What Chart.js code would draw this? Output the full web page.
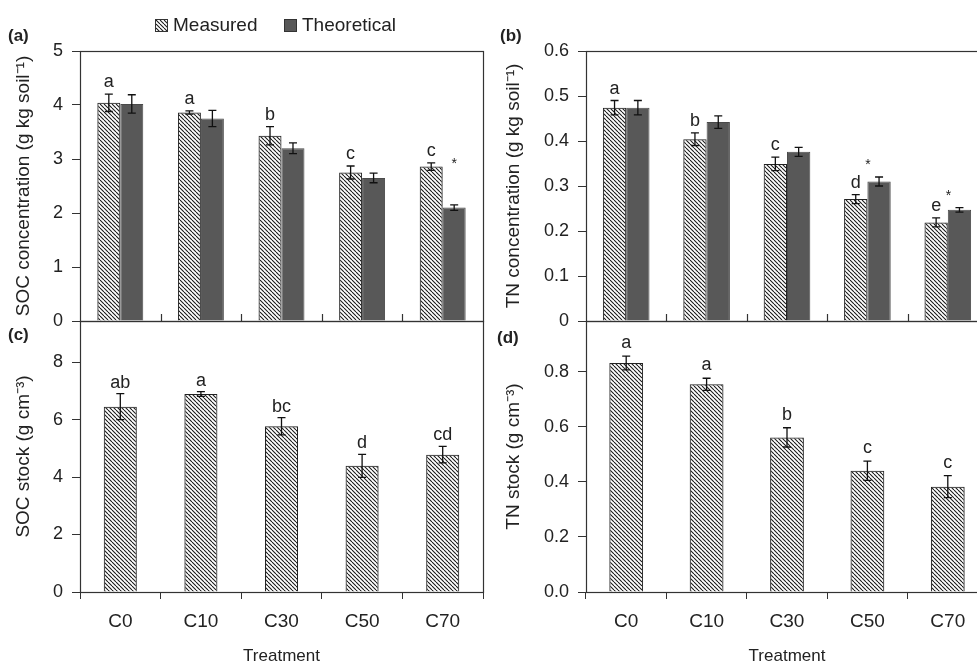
<!DOCTYPE html>
<html>
<head>
<meta charset="utf-8">
<script src="https://cdn.jsdelivr.net/npm/chart.js@4.4.1/dist/chart.umd.min.js"></script>
<style>
    html, body { margin: 0; padding: 0; background: #fff; overflow: hidden; }
    body { width: 977px; height: 665px; position: relative; }
    canvas { position: absolute; }
</style>
</head>
<body>
<canvas id="socConc" width="490" height="330" style="left:0;top:0"></canvas>
<canvas id="tnConc" width="510" height="330" style="left:490px;top:0"></canvas>
<canvas id="socStock" width="490" height="355" style="left:0;top:310px"></canvas>
<canvas id="tnStock" width="510" height="355" style="left:490px;top:310px"></canvas>
<script>
const FONT = "'Liberation Sans', Arial, sans-serif";
const INK = '#222';
const DARK = '#585858';

const treatments = ['C0', 'C10', 'C30', 'C50', 'C70'];

// (a) SOC concentration (g kg soil-1)
const socConcMeasured = [4.04, 3.86, 3.43, 2.75, 2.86];
const socConcMeasuredErr = [0.16, 0.03, 0.17, 0.12, 0.07];
const socConcTheoretical = [4.02, 3.75, 3.20, 2.65, 2.10];
const socConcTheoreticalErr = [0.17, 0.15, 0.10, 0.09, 0.05];
const socConcLetters = ['a', 'a', 'b', 'c', 'c'];
const socConcStars = ['', '', '', '', '*'];

// (b) TN concentration (g kg soil-1)
const tnConcMeasured = [0.474, 0.404, 0.349, 0.271, 0.219];
const tnConcMeasuredErr = [0.016, 0.014, 0.015, 0.010, 0.010];
const tnConcTheoretical = [0.474, 0.442, 0.376, 0.310, 0.247];
const tnConcTheoreticalErr = [0.016, 0.014, 0.010, 0.010, 0.005];
const tnConcLetters = ['a', 'b', 'c', 'd', 'e'];
const tnConcStars = ['', '', '', '*', '*'];

// (c) SOC stock (g cm-3)
const socStock = [6.45, 6.89, 5.77, 4.39, 4.78];
const socStockErr = [0.45, 0.08, 0.30, 0.40, 0.29];
const socStockLetters = ['ab', 'a', 'bc', 'd', 'cd'];

// (d) TN stock (g cm-3)
const tnStock = [0.832, 0.755, 0.562, 0.441, 0.383];
const tnStockErr = [0.025, 0.022, 0.035, 0.035, 0.040];
const tnStockLetters = ['a', 'a', 'b', 'c', 'c'];

// diagonal hatch used for the measured bars
function makeHatch() {
    const c = document.createElement('canvas');
    c.width = 4; c.height = 4;
    const g = c.getContext('2d');
    g.strokeStyle = '#1a1a1a';
    g.lineWidth = 1.1;
    [-4, 0, 4].forEach(k => {
        g.beginPath(); g.moveTo(k, 0); g.lineTo(k + 4, 4); g.stroke();
    });
    return g.createPattern(c, 'repeat');
}
const hatch = makeHatch();

// box round the plot area, with optional inward category ticks
const framePlugin = {
    id: 'frame',
    afterDatasetsDraw(chart, args, opts) {
        const { ctx, chartArea: a, scales } = chart;
        ctx.save();
        ctx.strokeStyle = '#333';
        ctx.lineWidth = 1.2;
        ctx.strokeRect(Math.round(a.left) + 0.5, Math.round(a.top) + 0.5, Math.round(a.width), Math.round(a.height));
        if (opts.innerTicks) {
            const n = chart.data.labels.length;
            for (let i = 1; i < n; i++) {
                const px = Math.round((scales.x.getPixelForValue(i - 1) + scales.x.getPixelForValue(i)) / 2) + 0.5;
                ctx.beginPath();
                ctx.moveTo(px, a.bottom);
                ctx.lineTo(px, a.bottom - 7);
                ctx.stroke();
            }
        }
        ctx.restore();
    }
};

// error bars and significance letters, read from the dataset
const errorPlugin = {
    id: 'errors',
    afterDatasetsDraw(chart) {
        const { ctx, scales } = chart;
        ctx.save();
        chart.data.datasets.forEach((ds, d) => {
            const meta = chart.getDatasetMeta(d);
            ds.data.forEach((v, i) => {
                const e = ds.errors[i];
                const x = meta.data[i].x;
                const top = scales.y.getPixelForValue(v + e);
                const bot = scales.y.getPixelForValue(v - e);
                ctx.strokeStyle = '#111';
                ctx.lineWidth = 1.3;
                ctx.beginPath();
                ctx.moveTo(x, top); ctx.lineTo(x, bot);
                ctx.moveTo(x - 4, top); ctx.lineTo(x + 4, top);
                ctx.moveTo(x - 4, bot); ctx.lineTo(x + 4, bot);
                ctx.stroke();
                (ds.marks || []).forEach(m => {
                    const t = m.text[i];
                    if (!t) return;
                    ctx.fillStyle = INK;
                    ctx.font = m.size + 'px ' + FONT;
                    ctx.textAlign = 'center';
                    ctx.textBaseline = 'alphabetic';
                    ctx.fillText(t, x + (m.dx || 0), top - m.gap);
                });
            });
        });
        ctx.restore();
    }
};

// panel tag and legend
const textPlugin = {
    id: 'texts',
    afterDraw(chart, args, opts) {
        const { ctx } = chart;
        ctx.save();
        if (opts.tag) {
            ctx.fillStyle = INK;
            ctx.font = 'bold 17px ' + FONT;
            ctx.textAlign = 'left';
            ctx.textBaseline = 'middle';
            ctx.fillText(opts.tag, opts.tagX, opts.tagY);
        }
        if (opts.key) {
            ctx.font = '19px ' + FONT;
            ctx.textBaseline = 'middle';
            ctx.textAlign = 'left';
            chart.data.datasets.forEach((ds, d) => {
                const x = opts.keyX + d * opts.keyGap;
                ctx.fillStyle = ds.backgroundColor;
                ctx.fillRect(x, 19, 13, 13);
                ctx.strokeStyle = '#333';
                ctx.lineWidth = 1;
                ctx.strokeRect(x + 0.5, 19.5, 12, 12);
                ctx.fillStyle = INK;
                ctx.fillText(ds.label, x + 18, 26);
            });
        }
        ctx.restore();
    }
};

function yAxis(cfg) {
    return {
        min: 0,
        max: cfg.max,
        afterFit: s => {
            s.width = cfg.width;
            s.paddingTop = 0;
            s.paddingBottom = 0;
        },
        afterBuildTicks: s => {
            s.ticks = s.ticks.filter(t => Math.abs(t.value / cfg.step - Math.round(t.value / cfg.step)) < 1e-6);
        },
        ticks: { stepSize: cfg.step, padding: 9, color: INK, font: { family: FONT, size: 18 }, callback: cfg.fmt },
        grid: { drawOnChartArea: false, tickLength: 8, color: '#333' },
        border: { display: false },
        title: { display: true, text: cfg.title, color: INK, font: { family: FONT, size: 19 }, padding: { top: 12, bottom: 0 } }
    };
}

const topX = { display: false };
const bottomX = {
    afterFit: s => { s.height = 73; },
    ticks: { color: INK, font: { family: FONT, size: 19 }, padding: 11 },
    grid: { offset: true, drawOnChartArea: false, tickLength: 7, color: '#333' },
    border: { display: false },
    title: { display: true, text: 'Treatment', color: INK, font: { family: FONT, size: 17, lineHeight: 1 }, padding: 0 }
};

function makePanel(id, datasets, x, y, padding, texts, innerTicks, catPct) {
    return new Chart(document.getElementById(id), {
        type: 'bar',
        data: { labels: treatments, datasets: datasets },
        options: {
            responsive: false,
            animation: false,
            devicePixelRatio: 1,
            categoryPercentage: catPct,
            barPercentage: 1,
            layout: { padding: padding },
            plugins: {
                legend: { display: false },
                tooltip: { enabled: false },
                frame: { innerTicks: innerTicks },
                texts: texts
            },
            scales: { x: x, y: y }
        },
        plugins: [framePlugin, errorPlugin, textPlugin]
    });
}

function measured(data, err, marks) {
    return { label: 'Measured', data: data, errors: err, marks: marks,
        backgroundColor: hatch, borderColor: '#222', borderWidth: 1 };
}
function theoretical(data, err, marks) {
    return { label: 'Theoretical', data: data, errors: err, marks: marks,
        backgroundColor: DARK, borderColor: '#4a4a4a', borderWidth: 1 };
}

makePanel('socConc',
    [measured(socConcMeasured, socConcMeasuredErr, [{ text: socConcLetters, size: 18, gap: 7 }]),
     theoretical(socConcTheoretical, socConcTheoreticalErr, [{ text: socConcStars, size: 14, gap: 37 }])],
    topX,
    yAxis({ max: 5, step: 1, width: 80, title: 'SOC concentration (g kg soil\u207B\u00B9)' }),
    { top: 51, right: 7, bottom: 9, left: 0 },
    { tag: '(a)', tagX: 8, tagY: 36, key: true, keyX: 155, keyGap: 129 },
    true, 0.57);

makePanel('tnConc',
    [measured(tnConcMeasured, tnConcMeasuredErr, [{ text: tnConcLetters, size: 18, gap: 7 }]),
     theoretical(tnConcTheoretical, tnConcTheoreticalErr, [{ text: tnConcStars, size: 14, gap: 8, dx: -11 }])],
    topX,
    yAxis({ max: 0.6, step: 0.1, width: 96, title: 'TN concentration (g kg soil\u207B\u00B9)',
        fmt: v => v === 0 ? '0' : v.toFixed(1) }),
    { top: 51, right: 12, bottom: 9, left: 0 },
    { tag: '(b)', tagX: 10, tagY: 36 },
    true, 0.58);

makePanel('socStock',
    [measured(socStock, socStockErr, [{ text: socStockLetters, size: 18, gap: 6 }])],
    bottomX,
    yAxis({ max: 9.43, step: 2, width: 80, title: 'SOC stock (g cm\u207B\u00B3)' }),
    { top: 11, right: 7, bottom: 0, left: 0 },
    { tag: '(c)', tagX: 8, tagY: 25 },
    false, 0.41);

makePanel('tnStock',
    [measured(tnStock, tnStockErr, [{ text: tnStockLetters, size: 18, gap: 8 }])],
    bottomX,
    yAxis({ max: 0.985, step: 0.2, width: 96, title: 'TN stock (g cm\u207B\u00B3)', fmt: v => v.toFixed(1) }),
    { top: 11, right: 12, bottom: 0, left: 0 },
    { tag: '(d)', tagX: 7, tagY: 28 },
    false, 0.42);
</script>
</body>
</html>
